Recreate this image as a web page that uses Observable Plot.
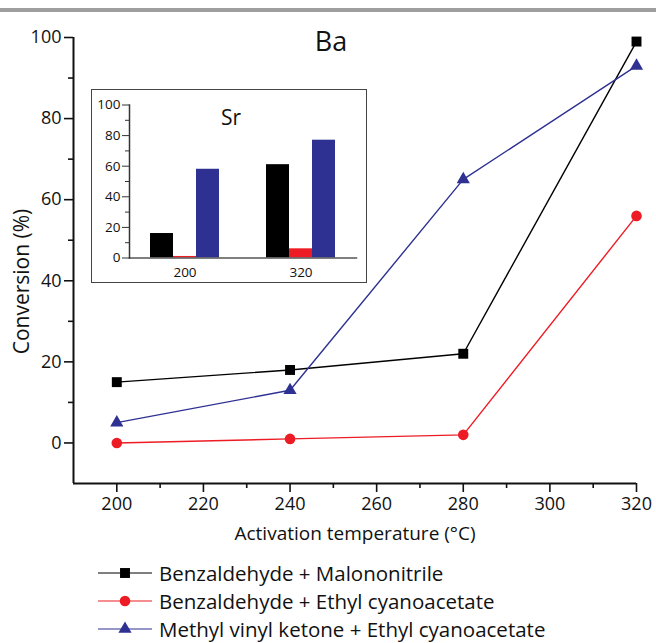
<!DOCTYPE html>
<html>
<head>
<meta charset="utf-8">
<script src="https://cdn.jsdelivr.net/npm/d3@7"></script>
<script src="https://cdn.jsdelivr.net/npm/@observablehq/plot@0.6"></script>
<style>
  html, body { margin: 0; padding: 0; background: #fff; }
  #root { position: relative; width: 656px; height: 643px; overflow: hidden; font-family: "Open Sans", sans-serif; color: #111; }
  #topbar { position: absolute; left: 0; top: 8px; width: 656px; height: 4px; background: #9e9e9e; }
  #main { position: absolute; left: 0; top: 0; }
  #inset { position: absolute; left: 91px; top: 89px; width: 276px; height: 194px; box-sizing: border-box; border: 1.5px solid #444; background: #fff; }
  #legend { position: absolute; left: 98px; top: 559px; }
  .lrow { display: flex; align-items: center; height: 28px; font-size: 20.5px; line-height: 26px; white-space: nowrap; }
  .lrow svg { margin-right: 6px; }
</style>
</head>
<body>
<div id="root">
  <div id="topbar"></div>
  <div id="main"></div>
  <div id="inset"></div>
  <div id="legend"></div>
</div>
<script>
// ---- data ----
const seriesNames = [
  "Benzaldehyde + Malononitrile",
  "Benzaldehyde + Ethyl cyanoacetate",
  "Methyl vinyl ketone + Ethyl cyanoacetate"
];
const seriesColors = ["#000000", "#ed1c24", "#2e3192"];
const seriesSymbols = ["square", "circle", "triangle"];

// Ba (main panel)
const baTemps = [200, 240, 280, 320];
const baMalononitrile = [15, 18, 22, 99];
const baEthylCyano = [0, 1, 2, 56];
const baMVK = [5, 13, 65, 93];

// Sr (inset bars)
const srTemps = [200, 320];
const srMalononitrile = [16, 61];
const srEthylCyano = [1, 6];
const srMVK = [58, 77];

// axes
const xDomain = [190, 320];
const yDomain = [-10, 100];
const xTicks = [200, 220, 240, 260, 280, 300, 320];
const xMinorTicks = [210, 230, 250, 270, 290, 310];
const yTicks = [0, 20, 40, 60, 80, 100];
const yMinorTicks = [10, 30, 50, 70, 90];
const insetYDomain = [0, 100];
const insetYTicks = [0, 20, 40, 60, 80, 100];
const insetYMinorTicks = [10, 30, 50, 70, 90];

const xLabel = "Activation temperature (°C)";
const yLabel = "Conversion (%)";
const mainTitle = "Ba";
const insetTitle = "Sr";

// ---- tables ----
const baSeries = [baMalononitrile, baEthylCyano, baMVK];
const baData = [];
seriesNames.forEach((s, i) => baTemps.forEach((t, j) => baData.push({series: s, temp: t, value: baSeries[i][j]})));
const srSeries = [srMalononitrile, srEthylCyano, srMVK];
const srData = [];
srTemps.forEach((t, j) => seriesNames.forEach((s, i) => srData.push({series: s, temp: String(t), value: srSeries[i][j]})));

const dotR = {"square": 5.6, "circle": 5.3, "triangle": 4.9};

// ---- main plot ----
const main = Plot.plot({
  width: 656, height: 550,
  marginLeft: 73, marginRight: 20, marginTop: 37, marginBottom: 67,
  style: {fontFamily: "Open Sans, sans-serif", fontSize: "18px", color: "#111", background: "transparent", overflow: "visible"},
  x: {domain: xDomain, label: null},
  y: {domain: yDomain, label: null},
  color: {domain: seriesNames, range: seriesColors},
  symbol: {domain: seriesNames, range: seriesSymbols},
  marks: [
    Plot.ruleY([yDomain[0]], {stroke: "#111", strokeWidth: 2}),
    Plot.ruleX([xDomain[0]], {stroke: "#111", strokeWidth: 2}),
    Plot.axisX({ticks: xTicks, tickSize: 9, tickPadding: 5, fontSize: 18, label: null, stroke: "#111", strokeWidth: 1.6}),
    Plot.axisX({ticks: xMinorTicks, tickSize: 5, tickFormat: () => "", label: null, stroke: "#111", strokeWidth: 1.6}),
    Plot.axisY({ticks: yTicks, tickSize: 9, tickPadding: 3, fontSize: 18, label: null, stroke: "#111", strokeWidth: 1.6}),
    Plot.axisY({ticks: yMinorTicks, tickSize: 5, tickFormat: () => "", label: null, stroke: "#111", strokeWidth: 1.6}),
    Plot.line(baData, {x: "temp", y: "value", z: "series", stroke: "series", strokeWidth: 1.4}),
    ...seriesNames.map((s, i) => Plot.dot(baData.filter(d => d.series === s), {
      x: "temp", y: "value", symbol: "series", fill: "series", stroke: "none", r: dotR[seriesSymbols[i]]
    })),
    Plot.text([xLabel], {frameAnchor: "bottom", textAnchor: "middle", lineAnchor: "middle", dy: 50, fontSize: 19, fill: "#111"}),
    Plot.text([yLabel], {frameAnchor: "left", textAnchor: "middle", lineAnchor: "middle", rotate: -90, dx: -51, dy: 21, fontSize: 21, fill: "#111"}),
    Plot.text([mainTitle], {frameAnchor: "top", textAnchor: "middle", lineAnchor: "middle", dx: -24, dy: 5, fontSize: 27, fill: "#111"})
  ]
});
document.getElementById("main").appendChild(main);

// ---- inset plot ----
const inset = Plot.plot({
  width: 273, height: 191,
  marginLeft: 37, marginRight: 8.5, marginTop: 14.5, marginBottom: 23.5,
  style: {fontFamily: "Open Sans, sans-serif", fontSize: "13.5px", color: "#111", background: "transparent", overflow: "visible"},
  fx: {domain: srTemps.map(String), paddingInner: 0.04, paddingOuter: 0, label: null},
  x: {domain: seriesNames, paddingInner: 0, paddingOuter: 0.83, axis: null, label: null},
  y: {domain: insetYDomain, label: null},
  color: {domain: seriesNames, range: seriesColors},
  marks: [
    Plot.barY(srData, {fx: "temp", x: "series", y: "value", fill: "series"}),
    Plot.frame({anchor: "bottom", facet: "super", stroke: "#555", strokeWidth: 1.5}),
    Plot.frame({anchor: "left", facet: "super", stroke: "#333", strokeWidth: 1.5}),
    Plot.axisY({ticks: insetYTicks, tickSize: 7, tickPadding: 2, fontSize: 13.5, label: null, stroke: "#333"}),
    Plot.axisY({ticks: insetYMinorTicks, tickSize: 4, tickFormat: () => "", label: null, stroke: "#333"}),
    Plot.axisFx({anchor: "bottom", tickSize: 0, tickPadding: 9, fontSize: 13.5, label: null}),
    Plot.text([insetTitle], {facet: "super", frameAnchor: "top", textAnchor: "middle", lineAnchor: "middle", dx: -12, dy: 13, fontSize: 21, fill: "#111"})
  ]
});
document.getElementById("inset").appendChild(inset);

// ---- legend ----
const legend = d3.select("#legend");
seriesNames.forEach((s, i) => {
  const row = legend.append("div").attr("class", "lrow");
  const svg = row.append("svg").attr("width", 55).attr("height", 16);
  svg.append("line").attr("x1", 0).attr("x2", 54).attr("y1", 8).attr("y2", 8)
    .attr("stroke", seriesColors[i]).attr("stroke-width", 1.2);
  const r = dotR[seriesSymbols[i]];
  const sym = {square: d3.symbolSquare, circle: d3.symbolCircle, triangle: d3.symbolTriangle}[seriesSymbols[i]];
  svg.append("path").attr("transform", "translate(27,8)")
    .attr("d", d3.symbol(sym, Math.PI * r * r)())
    .attr("fill", seriesColors[i]);
  row.append("span").text(s);
});
</script>
</body>
</html>
